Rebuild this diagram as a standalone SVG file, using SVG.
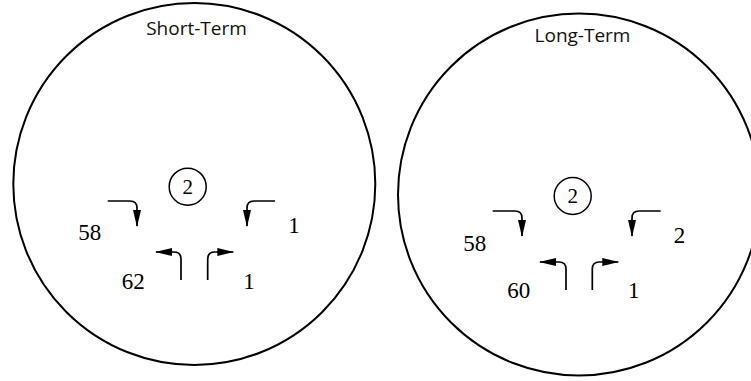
<svg xmlns="http://www.w3.org/2000/svg" width="751" height="381" viewBox="0 0 751 381">
<style>
.ring{fill:none;stroke:#000;stroke-width:2}
.node{fill:none;stroke:#000;stroke-width:1.5}
.title{font-family:"Open Sans","Liberation Sans",sans-serif;font-size:19px;fill:#111;text-anchor:middle}
.num{font-family:"Liberation Serif","DejaVu Serif",serif;font-size:23px;fill:#000;text-anchor:middle}
.lbl{font-family:"Liberation Serif","DejaVu Serif",serif;font-size:21px;fill:#000;text-anchor:middle}
.arr{fill:none;stroke:#000;stroke-width:1.7;marker-end:url(#ah)}
</style>
<defs>
<marker id="ah" markerUnits="userSpaceOnUse" markerWidth="17" markerHeight="9" viewBox="0 0 17 9" refX="16" refY="4.5" orient="auto">
<path d="M0,0.5 L17,4.5 L0,8.5 z" fill="#000"/>
</marker>
</defs>
<rect width="751" height="381" fill="#fff"/>
<g id="short-term">
<circle class="ring" cx="194.3" cy="184" r="181"/>
<text class="title" x="196.5" y="35">Short-Term</text>
</g>
<g id="long-term">
<circle class="ring" cx="579" cy="194.5" r="181"/>
<text class="title" x="582.5" y="42">Long-Term</text>
</g>
<g id="st-node">
<circle class="node" cx="187.7" cy="186.7" r="18.5"/>
<text class="lbl" x="187.7" y="193.8">2</text>
</g>
<g id="lt-node">
<circle class="node" cx="572.7" cy="196" r="18.5"/>
<text class="lbl" x="572.7" y="203.1">2</text>
</g>
<g id="st-labels">
<text class="num" x="89.8" y="240">58</text>
<text class="num" x="294" y="233">1</text>
<text class="num" x="133.3" y="289">62</text>
<text class="num" x="249" y="289">1</text>
</g>
<g id="lt-labels">
<text class="num" x="474.7" y="250.7">58</text>
<text class="num" x="679.5" y="243.3">2</text>
<text class="num" x="518.8" y="298.3">60</text>
<text class="num" x="633.7" y="298">1</text>
</g>
<g id="connectors">
<path class="arr" d="M107.7,201 H130 Q137,201 137,208 V226"/>
<path class="arr" d="M275,201 H254 Q247,201 247,208 V226"/>
<path class="arr" d="M181,280 V259 Q181,252 174,252 H156"/>
<path class="arr" d="M207.7,280 V259 Q207.7,252 214.7,252 H233.3"/>
<path class="arr" d="M492.7,211 H515 Q522,211 522,218 V236"/>
<path class="arr" d="M660.7,211 H639 Q632,211 632,218 V236"/>
<path class="arr" d="M566,290 V269 Q566,262 559,262 H540"/>
<path class="arr" d="M592.3,290 V269 Q592.3,262 599.3,262 H618.3"/>
</g>
</svg>
